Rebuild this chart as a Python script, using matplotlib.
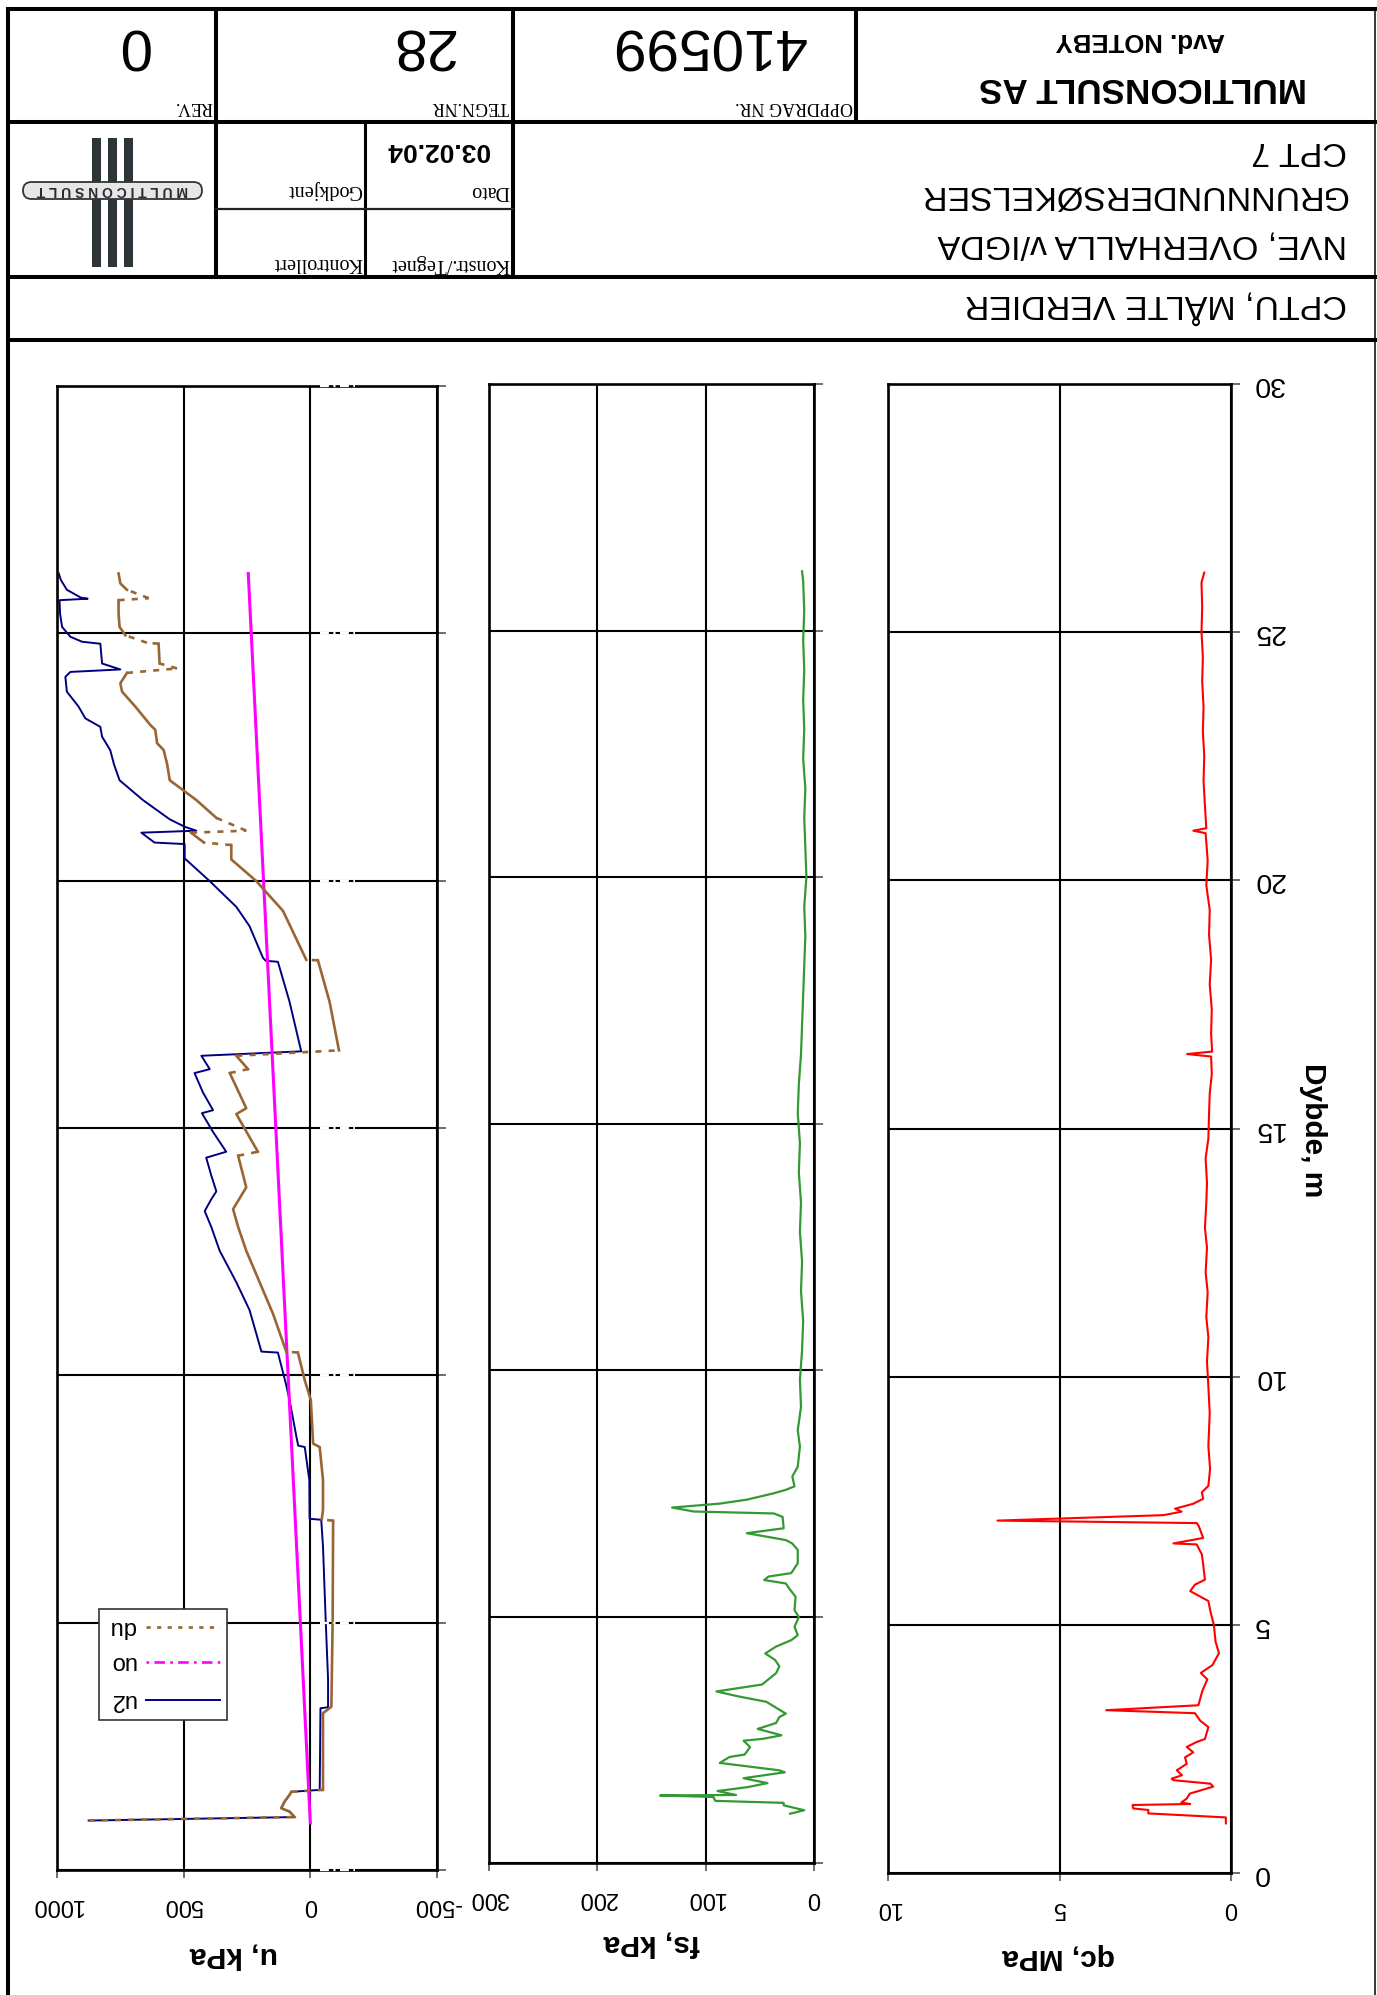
import matplotlib.pyplot as plt
from matplotlib.patches import Rectangle, FancyBboxPatch

plt.rcParams['font.family'] = ['Liberation Sans', 'DejaVu Sans']

# ---- values (depth in m) ----
qc_depth = [1.00, 1.12, 1.20, 1.27, 1.30, 1.37, 1.39, 1.42, 1.50, 1.60,
            1.74, 1.80, 1.87, 1.90, 1.97, 2.07, 2.20, 2.33, 2.43, 2.54,
            2.64, 2.70, 2.94, 3.07, 3.17, 3.22, 3.28, 3.38, 3.66, 3.90,
            4.03, 4.19, 4.43, 4.66, 5.00, 5.27, 5.48, 5.68, 5.81, 5.91,
            6.21, 6.42, 6.62, 6.64, 6.75, 6.99, 7.05, 7.10, 7.21, 7.28,
            7.34, 7.44, 7.54, 7.67, 7.80, 8.14, 8.60, 9.27, 9.93,
            10.3, 10.8, 11.2, 11.7, 12.1, 12.6, 13.0, 13.5, 13.9, 14.4,
            14.8, 15.3, 15.7, 16.1, 16.45, 16.5, 16.55, 16.9, 17.4, 17.9,
            18.4, 18.9, 19.4, 19.9, 20.4, 20.95, 21.0, 21.05, 21.5, 22.0,
            22.5, 23.0, 23.5, 24.0, 24.5, 25.0, 25.5, 26.0, 26.2]
qc_mpa = [0.15, 0.15, 2.41, 2.41, 2.85, 2.87, 1.19, 1.45, 1.29, 1.20,
          0.52, 0.60, 1.68, 1.73, 1.43, 1.58, 1.29, 1.34, 1.10, 1.29,
          1.00, 0.76, 0.66, 0.90, 1.00, 1.05, 3.64, 0.95, 0.84, 0.69,
          0.88, 0.54, 0.35, 0.45, 0.50, 0.60, 0.66, 1.19, 1.05, 0.76,
          0.81, 0.85, 1.00, 1.68, 0.81, 0.94, 1.00, 6.81, 1.97, 1.44,
          1.63, 1.10, 0.81, 0.85, 0.66, 0.61, 0.66, 0.62, 0.67,
          0.70, 0.66, 0.72, 0.68, 0.74, 0.70, 0.76, 0.72, 0.70, 0.74,
          0.66, 0.64, 0.62, 0.56, 0.58, 1.28, 0.55, 0.58, 0.56, 0.62,
          0.58, 0.64, 0.62, 0.72, 0.68, 0.74, 1.10, 0.72, 0.76, 0.80,
          0.78, 0.82, 0.80, 0.84, 0.82, 0.86, 0.84, 0.86, 0.78]

fs_depth = [1.00, 1.07, 1.17, 1.22, 1.26, 1.34, 1.37, 1.38, 1.46, 1.54,
            1.62, 1.72, 1.84, 1.88, 2.03, 2.15, 2.20, 2.35, 2.48, 2.52,
            2.59, 2.72, 2.84, 2.96, 3.03, 3.27, 3.38, 3.48, 3.62, 3.85,
            3.99, 4.12, 4.25, 4.39, 4.52, 4.62, 4.79, 4.99, 5.13, 5.40,
            5.57, 5.67, 5.74, 5.81, 5.88, 6.08, 6.35, 6.48, 6.55, 6.69,
            6.79, 7.02, 7.09, 7.13, 7.21, 7.29, 7.37, 7.50, 7.57, 7.64,
            7.84, 8.04, 8.45, 8.78, 9.25, 9.80,
            10.4, 11.0, 11.6, 12.2, 12.8, 13.4, 14.0, 14.6, 15.2, 15.8,
            16.4, 17.0, 17.6, 18.2, 18.8, 19.4, 20.0, 20.6, 21.2, 21.8,
            22.4, 23.0, 23.6, 24.2, 24.8, 25.4, 26.0, 26.2]
fs_kpa = [22, 9, 28, 28, 91, 93, 142, 72, 89, 61,
          43, 65, 27, 32, 87, 78, 64, 59, 65, 47,
          30, 52, 35, 32, 26, 44, 70, 90, 48, 35,
          32, 36, 45, 35, 21, 15, 18, 14, 18, 17,
          23, 26, 46, 42, 21, 15, 15, 20, 26, 62,
          28, 29, 37, 111, 131, 87, 62, 37, 26, 18,
          20, 15, 13, 15, 12, 13,
          11, 10, 12, 11, 13, 12, 14, 13, 15, 14,
          12, 11, 10, 9, 8, 9, 7, 8, 9, 8,
          10, 9, 10, 9, 10, 9, 10, 11]

u2_depth = [1.00, 1.07, 1.18, 1.25, 1.38, 1.52, 1.58, 1.62, 3.27, 3.29,
            3.85, 5.00, 6.54, 7.08, 7.10, 7.88, 8.55, 8.58, 8.76, 9.50,
            9.80, 10.46, 10.48, 11.32, 11.88, 12.52, 13.00, 13.32, 13.56, 13.72,
            14.04, 14.40, 14.52, 14.92, 15.30, 15.36, 15.72, 16.11, 16.19, 16.46,
            16.55, 17.55, 18.36, 18.38, 18.44, 19.08, 19.47, 19.99, 20.45, 20.74,
            20.77, 20.97, 21.01, 21.09, 21.24, 21.63, 22.03, 22.35, 22.64, 22.91,
            23.11, 23.28, 23.52, 23.82, 24.12, 24.22, 24.27, 24.39, 24.79, 24.83,
            24.93, 25.13, 25.40, 25.67, 25.70, 25.72, 25.88, 26.08, 26.21]
u2_kpa = [875, 62, 82, 115, 102, 82, 75, -37, -40, -70,
          -70, -61, -50, -43, 3, 4, 22, 48, 55, 82,
          95, 128, 193, 240, 292, 358, 391, 417, 391, 371,
          391, 411, 332, 384, 428, 384, 424, 457, 397, 430,
          36, 82, 128, 176, 187, 240, 292, 397, 496, 496,
          615, 667, 450, 496, 555, 661, 753, 775, 790, 822,
          829, 888, 915, 961, 967, 947, 750, 822, 829, 901,
          947, 980, 988, 990, 879, 905, 961, 985, 993]

du_depth = [1.00, 1.07, 1.18, 1.25, 1.38, 1.52, 1.58, 1.62, 3.17, 3.30,
            5.00, 7.06, 7.09, 7.28, 7.88, 8.55, 8.62, 9.50, 9.90, 10.46,
            10.48, 11.24, 12.52, 13.00, 13.36, 13.80, 14.44, 14.52, 15.28, 15.40,
            16.11, 16.19, 16.46, 16.57, 17.55, 18.39, 18.40, 19.39, 19.99, 20.43,
            20.72, 20.77, 20.97, 21.01, 21.27, 21.63, 22.03, 22.35, 22.64, 22.78,
            23.05, 23.15, 23.52, 23.82, 23.99, 24.20, 24.29, 24.39, 24.79, 24.81,
            24.96, 25.13, 25.40, 25.67, 25.71, 25.88, 26.01, 26.21]
du_kpa = [875, 62, 82, 115, 102, 82, 75, -50, -50, -83,
          -88, -90, -45, -50, -50, -37, -11, -2, 22, 49,
          95, 147, 253, 285, 305, 253, 285, 207, 292, 253,
          318, 246, 292, -113, -76, -30, 16, 108, 213, 312,
          312, 420, 471, 253, 371, 450, 555, 565, 579, 605,
          612, 632, 691, 743, 750, 724, 526, 595, 599, 645,
          730, 753, 757, 757, 638, 724, 750, 757]

u0_depth = [0.95, 26.21]
u0_kpa = [0, 245]

depth_ticks = [0, 5, 10, 15, 20, 25, 30]
qc_ticks = [10, 5, 0]
fs_ticks = [300, 200, 100, 0]
u_ticks = [1000, 500, 0, -500]

W, H = 1377, 1995
fig = plt.figure(figsize=(W / 100, H / 100), dpi=100)


def panel(left, right, top, bottom, xlim, xticks, xlabel, label_x, label_y):
    ax = fig.add_axes([left / W, 1 - bottom / H, (right - left) / W, (bottom - top) / H])
    ax.set_xlim(*xlim)
    ax.set_ylim(0, 30)
    ax.set_xticks(xticks)
    ax.set_xticklabels([str(t) for t in xticks], rotation=180)
    ax.set_yticks(depth_ticks)
    ax.yaxis.tick_right()
    ax.set_yticklabels([])
    ax.tick_params(axis='x', direction='out', length=6, width=1.2, color='#555555',
                   pad=11, labelsize=17)
    ax.tick_params(axis='y', direction='out', length=6.5, width=1.2, color='#555555',
                   pad=9, labelsize=20.5)
    ax.grid(True, color='black', lw=1.5)
    for s in ax.spines.values():
        s.set_linewidth(1.9)
    ax.set_xlabel(xlabel, rotation=180, fontsize=21.5, fontweight='bold')
    ax.xaxis.label.set_va('center')
    ax.xaxis.set_label_coords(label_x, label_y)
    return ax


# qc panel
ax_qc = panel(888, 1231, 384, 1873, (10, 0), qc_ticks, 'qc, MPa', 0.4985, -0.0564)
ax_qc.set_yticklabels([str(t) for t in depth_ticks], rotation=180, va='center', ha='left')
ax_qc.yaxis.set_label_position('right')
ax_qc.set_ylabel('Dybde, m', rotation=270, fontsize=21.5, fontweight='bold', va='center')
ax_qc.yaxis.set_label_coords(1.239, 0.499)
ax_qc.plot(qc_mpa, qc_depth, color='#ff0000', lw=1.5)

# fs panel
ax_fs = panel(489, 814, 384, 1863, (300, 0), fs_ticks, 'fs, kPa', 0.5015, -0.0541)
ax_fs.plot(fs_kpa, fs_depth, color='#339933', lw=1.6)

# u panel
ax_u = panel(57, 437, 386, 1870, (1000, -500), u_ticks, 'u, kPa', 0.466, -0.0573)
ax_u.plot(u2_kpa, u2_depth, color='#000080', lw=1.4)
ax_u.plot(u0_kpa, u0_depth, color='#ff00ff', lw=2.2)

# du: short steps look solid, long horizontal jumps show the dotted pattern
brown = '#996633'
run_u, run_d = [du_kpa[0]], [du_depth[0]]
for i in range(1, len(du_kpa)):
    dx = abs(du_kpa[i] - du_kpa[i - 1]) * 0.2533
    dy = abs(du_depth[i] - du_depth[i - 1]) * 49.5
    if dx > 10 and dx > 2 * dy:
        if len(run_u) > 1:
            ax_u.plot(run_u, run_d, color=brown, lw=1.9)
        ax_u.plot(du_kpa[i - 1:i + 1], du_depth[i - 1:i + 1], color=brown, lw=1.9,
                  ls=(0, (2.3, 2.7)))
        run_u, run_d = [du_kpa[i]], [du_depth[i]]
    else:
        run_u.append(du_kpa[i])
        run_d.append(du_depth[i])
if len(run_u) > 1:
    ax_u.plot(run_u, run_d, color=brown, lw=1.9)

# white dash-dot marks crossing the horizontal lines near u = -100
for d in depth_ticks:
    ax_u.plot([-40, -175], [d, d], color='white', lw=1.6, ls=(0, (4, 2, 1, 2)),
              clip_on=False, zorder=5)

# ---- overlay in pixel coordinates: frame, title block, legend ----
ov = fig.add_axes([0, 0, 1, 1])
ov.set_xlim(0, W)
ov.set_ylim(H, 0)
ov.axis('off')

thick = 2.9
ov.plot([8, 8], [9, H], color='black', lw=thick)
ov.plot([1375, 1375], [9, H], color='black', lw=1.1)
for y in [9, 122, 277, 340]:
    ov.plot([8, 1375], [y, y], color='black', lw=thick)
ov.plot([216, 216], [9, 277], color='black', lw=thick)
ov.plot([513, 513], [9, 277], color='black', lw=thick)
ov.plot([856, 856], [9, 122], color='black', lw=thick)
ov.plot([365, 365], [122, 277], color='black', lw=2.2)
ov.plot([216, 513], [209, 209], color='#222222', lw=1.6)

# logo
for x0 in [92, 108, 124]:
    ov.add_patch(Rectangle((x0, 138), 9, 129, color='#2e3538', lw=0))
ov.add_patch(FancyBboxPatch((23, 182), 179, 17, boxstyle='round,pad=0,rounding_size=8.5',
                            fc='#e6e6e6', ec='#333333', lw=1.3))
ov.text(112, 190.5, 'M U L T I C O N S U L T', rotation=180, ha='center', va='center',
        fontsize=10, fontweight='bold', color='#2a2a2a')

serif = ['Liberation Serif', 'DejaVu Serif']


def flip(x, y, s, size, ha='center', **kw):
    ov.text(x, y, s, rotation=180, ha=ha, va='center', fontsize=size, **kw)


flip(133, 43, '0', 42)
flip(422, 43, '28', 42)
flip(708, 43, '410599', 42)
flip(213, 106, 'REV.', 13, ha='right', family=serif)
flip(509, 106, 'TEGN.NR', 13, ha='right', family=serif)
flip(853, 106, 'OPPDRAG NR.', 13, ha='right', family=serif)
flip(1140, 40, 'Avd. NOTEBY', 18.5, fontweight='bold')
flip(1143, 88, 'MULTICONSULT AS', 25.2, fontweight='bold')
flip(438, 150, '03.02.04', 19, fontweight='bold')
flip(509, 190, 'Dato', 14.5, ha='right', family=serif)
flip(362, 190, 'Godkjent', 14.5, ha='right', family=serif)
flip(509, 263, 'Konstr./Tegnet', 14.5, ha='right', family=serif)
flip(362, 263, 'Kontrollert', 14.5, ha='right', family=serif)
flip(1347, 150, 'CPT 7', 24.5, ha='right')
flip(1347, 195, 'GRUNNUNDERSØKELSER', 24.5, ha='right')
flip(1347, 244, 'NVE, OVERHALLA v/IGDA', 24.5, ha='right')
flip(1347, 305, 'CPTU, MÅLTE VERDIER', 24.5, ha='right')

# legend (upside down like the rest of the sheet)
ov.add_patch(Rectangle((99, 1609), 128, 111, fc='white', ec='#333333', lw=1.2, zorder=6))
legend_rows = [('du', brown, (0, (1.6, 2.4)), 1.9, 1627),
               ('uo', '#ff00ff', (0, (1, 2, 4, 2)), 1.9, 1662),
               ('u2', '#000080', '-', 1.4, 1700)]
for lab, col, ls, lw, y in legend_rows:
    ov.plot([146, 220], [y, y], color=col, ls=ls, lw=lw, zorder=7)
    ov.text(122, y, lab, rotation=180, ha='center', va='center', fontsize=17, zorder=7)

fig.savefig('out.png', dpi=100)
